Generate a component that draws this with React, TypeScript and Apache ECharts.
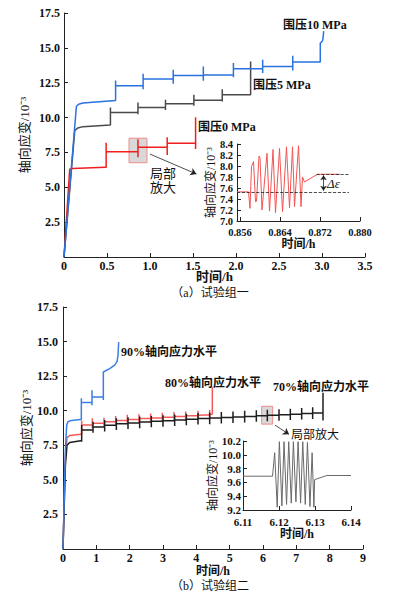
import React, { useEffect, useRef } from "react";
import * as echarts from "echarts";

// ---------- (a) 试验组一 ----------
const blueA_init = [[0, 0], [0.144, 10.79], [0.17, 10.95], [0.22, 11.04], [0.6, 11.22]];
const blueA_stepT = [0.6, 0.92, 1.27, 1.62, 1.97, 2.31, 2.66];
const blueA_level = [12.28, 12.76, 13.02, 13.05, 13.5, 13.67, 13.98];
const blueA_barTop = [12.66, 13.14, 13.43, 13.67, 13.91, 14.15, 14.44];
const blueA_barBot = [11.56, 12.04, 12.42, 12.64, 12.9, 13.19, 13.38];
const blueA_end = [[2.98, 13.98], [2.98, 15.35], [3.0, 15.45], [3.01, 15.6], [3.02, 16.2]];

const grayA_init = [[0, 0], [0.125, 9.06], [0.16, 9.25], [0.22, 9.35], [0.54, 9.47]];
const grayA_stepT = [0.54, 0.86, 1.18, 1.51, 1.84];
const grayA_level = [10.36, 10.72, 10.99, 11.25, 11.63];
const grayA_barTop = [10.72, 11.08, 11.27, 11.63, 12.04];
const grayA_barBot = [9.83, 10.24, 10.55, 10.84, 11.15];
const grayA_end = [[2.17, 11.63], [2.17, 14.03]];

const redA_init = [[0, 0], [0.066, 6.29], [0.1, 6.35], [0.48, 6.43]];
const redA_stepT = [0.49, 0.86, 1.2];
const redA_level = [7.55, 7.87, 8.16];
const redA_barTop = [8.2, 8.45, 8.59];
const redA_barBot = [6.72, 7.15, 7.32];
const redA_end = [[1.53, 8.16], [1.53, 7.75], [1.53, 10.03]];

// inset (a)
const insetA_ticks = [0.856, 0.864, 0.872, 0.88];
const insetA_t = [0.8554, 0.8577, 0.858, 0.8583, 0.8587, 0.8591, 0.8593, 0.8598, 0.86, 0.8604, 0.8614, 0.8619, 0.8626, 0.8631, 0.8639, 0.8645, 0.8653, 0.8659, 0.8665, 0.8669, 0.8677, 0.8682, 0.8685, 0.8689, 0.8715, 0.876];
const insetA_v = [7.53, 7.53, 7.23, 7.99, 8.08, 7.35, 7.36, 8.18, 8.15, 7.2, 8.23, 7.18, 8.3, 7.15, 8.32, 7.17, 8.35, 7.24, 8.35, 7.26, 8.37, 7.26, 7.8, 7.71, 7.85, 7.85];

// ---------- (b) 试验组二 ----------
const blueB_init = [[0, 0], [0.07, 7.0], [0.11, 8.96], [0.15, 9.2], [0.25, 9.3], [0.52, 9.36]];
const blueB_stepT = [0.55, 0.87, 1.21];
const blueB_level = [10.6, 11.0, 12.8];
const blueB_barTop = [10.9, 11.48, 11.45];
const blueB_barBot = [9.67, 10.4, 10.78];
const blueB_end = [[1.4, 13.05], [1.55, 13.3], [1.62, 13.55], [1.65, 14.0], [1.67, 14.96]];

const redB_init = [[0, 0], [0.07, 6.5], [0.12, 8.05], [0.2, 8.2], [0.53, 8.3]];
const redB_stepT = [0.56, 0.88, 1.23, 1.58, 1.93, 2.28, 2.63, 2.98, 3.33, 3.68, 4.05];
const redB_level = [8.96, 9.1, 9.2, 9.3, 9.37, 9.43, 9.48, 9.53, 9.58, 9.63, 9.68];
const redB_barTop = [9.3, 9.45, 9.5, 9.62, 9.7, 9.75, 9.8, 9.86, 9.9, 9.95, 10.0];
const redB_barBot = [8.3, 8.75, 8.85, 8.98, 9.05, 9.1, 9.15, 9.2, 9.25, 9.3, 9.35];
const redB_end = [[4.4, 9.7], [4.4, 10.05], [4.4, 9.35], [4.4, 9.72], [4.48, 9.74], [4.48, 11.7]];

const blackB_init = [[0, 0], [0.07, 6.0], [0.12, 7.5], [0.2, 7.7], [0.53, 7.83]];
const blackB_stepT = [0.56, 0.9, 1.25, 1.6, 1.95, 2.3, 2.65, 3.0, 3.35, 3.7, 4.05, 4.4, 4.75, 5.1, 5.45, 5.8, 6.13, 6.48, 6.82, 7.16, 7.49];
const blackB_level = [8.6, 8.82, 8.94, 9.05, 9.12, 9.18, 9.23, 9.28, 9.33, 9.38, 9.43, 9.47, 9.51, 9.55, 9.59, 9.63, 9.67, 9.71, 9.75, 9.8, 9.84];
const blackB_barTop = [8.96, 9.2, 9.33, 9.45, 9.52, 9.58, 9.62, 9.68, 9.72, 9.78, 9.83, 9.87, 9.9, 9.95, 10.0, 10.03, 10.07, 10.1, 10.15, 10.2, 10.25];
const blackB_barBot = [7.75, 8.4, 8.5, 8.6, 8.68, 8.74, 8.8, 8.84, 8.9, 8.94, 9.0, 9.03, 9.08, 9.12, 9.15, 9.2, 9.24, 9.28, 9.32, 9.36, 9.4];
const blackB_end = [[7.8, 9.86], [7.8, 9.3], [7.8, 11.3]];

// inset (b)
const insetB_t = [6.11, 6.1182, 6.1188, 6.1195, 6.1201, 6.1208, 6.1214, 6.1221, 6.1227, 6.1234, 6.124, 6.1247, 6.1253, 6.126, 6.1266, 6.1273, 6.1279, 6.1286, 6.1292, 6.1297, 6.1299, 6.1333, 6.14];
const insetB_v = [9.69, 9.69, 10.03, 9.24, 10.19, 9.26, 10.19, 9.28, 10.19, 9.3, 10.19, 9.32, 10.19, 9.3, 10.19, 9.28, 10.18, 9.25, 10.03, 9.24, 9.64, 9.7, 9.7];

const FONT = "'Liberation Serif', 'Noto Sans CJK SC', serif";

function stepped(init: number[][], stepT: number[], level: number[], top: number[], bot: number[], end: number[][]) {
  const pts: number[][] = init.map((p) => [p[0], p[1]]);
  let prev = init[init.length - 1][1];
  stepT.forEach((t, i) => {
    pts.push([t, prev], [t, top[i]], [t, bot[i]], [t, level[i]]);
    prev = level[i];
  });
  end.forEach((p) => pts.push([p[0], p[1]]));
  return pts;
}

const zip = (a: number[], b: number[]) => a.map((v, i) => [v, b[i]]);

function xAx(gi: number, min: number, max: number, interval: number | undefined, fmt: (v: number) => string, nameGap: number, margin = 3, fs = 12, nfs = 13, custom?: number[]) {
  const ax: any = {
    gridIndex: gi, type: "value", min, max,
    axisLine: { show: true, lineStyle: { color: "#222", width: 1 } },
    axisTick: { show: true, inside: true, length: 4, lineStyle: { color: "#222" } },
    splitLine: { show: false },
    axisLabel: { formatter: fmt, color: "#111", fontFamily: FONT, fontWeight: "bold", fontSize: fs, margin },
    name: "时间/h", nameLocation: "middle", nameGap, nameMoveOverlap: false,
    nameTextStyle: { color: "#111", fontFamily: FONT, fontWeight: "bold", fontSize: nfs },
  };
  if (interval !== undefined) ax.interval = interval;
  if (custom) {
    ax.axisTick.customValues = custom;
    ax.axisLabel.customValues = custom;
  }
  return ax;
}
function yAx(gi: number, min: number, max: number, interval: number, fmt: (v: number) => string, nameGap: number, margin = 4, fs = 12, nfs = 13) {
  return {
    gridIndex: gi, type: "value", min, max, interval,
    axisLine: { show: true, lineStyle: { color: "#222", width: 1 } },
    axisTick: { show: true, inside: true, length: 4, lineStyle: { color: "#222" } },
    splitLine: { show: false },
    axisLabel: { formatter: fmt, color: "#111", fontFamily: FONT, fontWeight: "bold", fontSize: fs, margin },
    name: "轴向应变/10⁻³", nameLocation: "middle", nameGap, nameMoveOverlap: false,
    nameTextStyle: { color: "#111", fontFamily: FONT, fontSize: nfs },
  };
}

function line(xi: number, yi: number, data: number[][], color: string, width: number, extra: any = {}) {
  return {
    type: "line", xAxisIndex: xi, yAxisIndex: yi, data, showSymbol: false, symbol: "none",
    lineStyle: { color, width }, itemStyle: { color }, clip: false, silent: true, ...extra,
  };
}

function txt(x: number, y: number, text: string, opts: any = {}) {
  return {
    type: "text", x, y, silent: true,
    style: { text, fill: "#111", font: `${opts.bold ? "bold " : ""}${opts.italic ? "italic " : ""}${opts.size || 12}px ${FONT}`, textAlign: opts.align || "left", textVerticalAlign: "middle", lineHeight: opts.lh || 14 },
  };
}

export default function App() {
  const ref = useRef<HTMLDivElement>(null);
  useEffect(() => {
    if (!ref.current) return;
    const chart = echarts.init(ref.current, null, { renderer: "svg" });
    const f1 = (v: number) => (v === 0 ? "" : v.toFixed(1));
    const option: any = {
      animation: false,
      backgroundColor: "#fff",
      grid: [
        { left: 64, top: 13, width: 301, height: 244 },
        { left: 237, top: 144, width: 123, height: 77 },
        { left: 63, top: 307, width: 300, height: 242 },
        { left: 243, top: 441, width: 108, height: 69 },
      ],
      xAxis: [
        xAx(0, 0, 3.5, 0.5, (v) => (v === 0 ? "0" : v.toFixed(1)), 13),
        xAx(1, 0.8554, 0.88, undefined, (v) => v.toFixed(3), 17, 6, 10.5, 12, insetA_ticks),
        xAx(2, 0, 9, 1, (v) => String(Math.round(v)), 16, 3, 12, 12),
        xAx(3, 6.11, 6.14, 0.01, (v) => v.toFixed(2), 18, 6, 11, 12),
      ],
      yAxis: [
        yAx(0, 0, 17.5, 2.5, f1, 33),
        yAx(1, 7.0, 8.4, 0.2, (v) => v.toFixed(1), 20, 4, 10.5, 12),
        yAx(2, 0, 17.5, 2.5, f1, 30, 5),
        yAx(3, 9.2, 10.2, 0.2, (v) => v.toFixed(1), 24, 2, 11, 12),
      ],
      series: [
        line(0, 0, stepped(redA_init, redA_stepT, redA_level, redA_barTop, redA_barBot, redA_end), "#f01e1e", 1.5, {
          markArea: {
            silent: true,
            itemStyle: { color: "rgba(190,190,190,0.6)", borderColor: "#f08c8c", borderWidth: 1 },
            data: [[{ coord: [0.756, 8.52] }, { coord: [0.965, 6.76] }]],
          },
          markLine: {
            silent: true, symbol: ["none", "arrow"], symbolSize: 6, label: { show: false },
            lineStyle: { color: "#222", width: 0.8, type: "solid" },
            data: [[{ coord: [1.0, 7.38] }, { coord: [1.54, 5.95] }]],
          },
        }),
        line(0, 0, stepped(grayA_init, grayA_stepT, grayA_level, grayA_barTop, grayA_barBot, grayA_end), "#4a4a4a", 1.5),
        line(0, 0, stepped(blueA_init, blueA_stepT, blueA_level, blueA_barTop, blueA_barBot, blueA_end), "#2a72e0", 1.5),
        line(1, 1, zip(insetA_t, insetA_v), "#f25555", 1, {
          markLine: {
            silent: true, symbol: ["none", "none"], symbolSize: 5, label: { show: false },
            lineStyle: { color: "#222", width: 0.8, type: "dashed" },
            data: [
              [{ coord: [0.8554, 7.53] }, { coord: [0.8778, 7.53] }],
              [{ coord: [0.8713, 7.85] }, { coord: [0.8778, 7.85] }],
              [{ coord: [0.8727, 7.55], symbol: "arrow", lineStyle: { type: "solid" } }, { coord: [0.8727, 7.83], symbol: "arrow", lineStyle: { type: "solid" } }],
            ],
          },
        }),
        line(2, 2, stepped(redB_init, redB_stepT, redB_level, redB_barTop, redB_barBot, redB_end), "#f45a5a", 1.5),
        line(2, 2, stepped(blackB_init, blackB_stepT, blackB_level, blackB_barTop, blackB_barBot, blackB_end), "#1e1e1e", 1.5, {
          markArea: {
            silent: true,
            itemStyle: { color: "rgba(190,190,190,0.6)", borderColor: "#f08c8c", borderWidth: 1 },
            data: [[{ coord: [5.96, 10.32] }, { coord: [6.29, 9.03] }]],
          },
          markLine: {
            silent: true, symbol: ["none", "arrow"], symbolSize: 6, label: { show: false },
            lineStyle: { color: "#222", width: 0.8, type: "solid" },
            data: [[{ coord: [6.36, 8.96] }, { coord: [6.78, 8.29] }]],
          },
        }),
        line(2, 2, stepped(blueB_init, blueB_stepT, blueB_level, blueB_barTop, blueB_barBot, blueB_end), "#3a7fe6", 1.5),
        line(3, 3, zip(insetB_t, insetB_v), "#6a6a6a", 1),
      ],
      graphic: [
        txt(283, 25, "围压10 MPa", { bold: true }),
        txt(253, 85, "围压5 MPa", { bold: true }),
        txt(198, 127, "围压0 MPa", { bold: true }),
        txt(163, 180, "局部\n放大", { size: 13, align: "center", lh: 14 }),
        txt(327, 183, "Δε", { size: 13, italic: true }),
        txt(210, 293, "（a）试验组一", { align: "center" }),
        txt(121, 352, "90%轴向应力水平", { bold: true }),
        txt(165, 383, "80%轴向应力水平", { bold: true }),
        txt(273, 387, "70%轴向应力水平", { bold: true }),
        txt(291, 435, "局部放大", { size: 12 }),
        txt(210, 586, "（b）试验组二", { align: "center", lh: 12 }),
      ],
    };
    chart.setOption(option);
    return () => chart.dispose();
  }, []);
  return <div ref={ref} style={{ position: "fixed", left: 0, top: 0, width: 397, height: 597, background: "#fff" }} />;
}
